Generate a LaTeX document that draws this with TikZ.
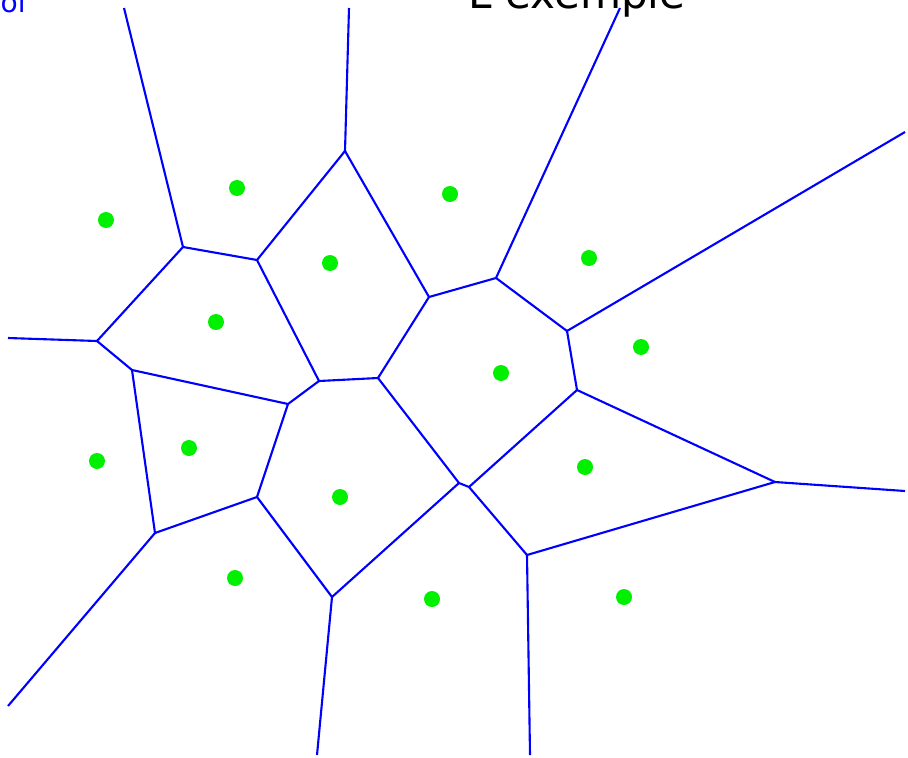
\documentclass[tikz,border=0pt]{standalone}
\usepackage{fontspec}
\setmainfont{DejaVu Sans}
\usepackage{tikz}
\usetikzlibrary{calc}
\definecolor{vorblue}{RGB}{0,0,255}
\definecolor{sitegreen}{RGB}{0,240,0}

\begin{document}
\begin{tikzpicture}[
  x=0.02cm, y=-0.02cm,
  vedge/.style={draw=vorblue, line width=1.2pt, line join=miter},
  site/.style={circle, fill=sitegreen, inner sep=0pt, minimum size=0.32cm},
]
\useasboundingbox (0,0) rectangle (908,757);
\clip (0,0) rectangle (908,757);

%% -- Titles (cut off by the top edge) ----------------------------------------
\node[anchor=base east, font=\fontsize{16}{16}\selectfont, text=vorblue,
      inner sep=0pt] (ttl1) at (26,13) {Voronoi};
\node[anchor=base west, font=\fontsize{24}{24}\selectfont, inner sep=0pt]
  (ttl2) at (468,9) {L'exemple};

%% -- Voronoi vertices ---------------------------------------------------------
\coordinate (vA) at (183,247);
\coordinate (vB) at (257,260);
\coordinate (vC) at (345,151);
\coordinate (vD) at (97,341);
\coordinate (vE) at (132,370);
\coordinate (vF) at (288,404);
\coordinate (vG) at (319,381);
\coordinate (vH) at (378,378);
\coordinate (vI) at (429,297);
\coordinate (vJ) at (496,278);
\coordinate (vK) at (567,331);
\coordinate (vL) at (577,390);
\coordinate (vM) at (459,483);
\coordinate (vN) at (469,487);
\coordinate (vO) at (257,497);
\coordinate (vP) at (155,533);
\coordinate (vQ) at (332,597);
\coordinate (vR) at (527,555);
\coordinate (vS) at (775,482);

%% -- Rays to infinity ---------------------------------------------------------
\coordinate (rA) at (124,8);
\coordinate (rC) at (349,8);
\coordinate (rD) at (8,338);
\coordinate (rJ) at (620,8);
\coordinate (rK) at (905,132);
\coordinate (rS) at (905,491);
\coordinate (rR) at (530,755);
\coordinate (rQ) at (317,755);
\coordinate (rP) at (8,706);

%% -- Edges --------------------------------------------------------------------
\foreach \a/\b in {vA/rA, vA/vB, vA/vD, vB/vC, vC/rC, vC/vI, vB/vG,
                   vD/rD, vD/vE, vE/vF, vE/vP, vF/vG, vG/vH, vH/vI,
                   vI/vJ, vJ/rJ, vJ/vK, vK/rK, vK/vL, vL/vN, vL/vS,
                   vS/rS, vS/vR, vR/vN, vR/rR, vN/vM, vM/vH, vM/vQ,
                   vQ/vO, vQ/rQ, vO/vF, vO/vP, vP/rP}
  \draw[vedge] (\a) -- (\b);

%% -- Sites --------------------------------------------------------------------
\foreach \x/\y [count=\i] in {106/220, 237/188, 450/194, 589/258, 330/263,
                              216/322, 641/347, 501/373, 97/461, 189/448,
                              340/497, 585/467, 235/578, 432/599, 624/597}
  \node[site] (s\i) at (\x,\y) {};

\end{tikzpicture}
\end{document}
